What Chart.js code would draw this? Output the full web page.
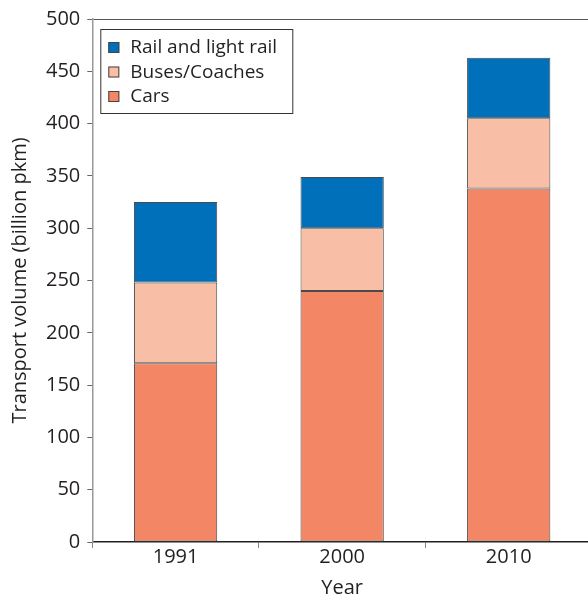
<!DOCTYPE html>
<html>
<head>
<meta charset="utf-8">
<script src="https://cdn.jsdelivr.net/npm/chart.js@4/dist/chart.umd.min.js"></script>
<style>
  html, body { margin: 0; padding: 0; background: #fff; overflow: hidden; }
  #wrap { width: 600px; height: 597px; }
</style>
</head>
<body>
<div id="wrap"><canvas id="chart"></canvas></div>
<script>
// data
const years = ['1991', '2000', '2010'];
const cars = [171, 240, 338];
const buses = [77, 60, 67];
const rail = [77, 49, 58];
const yTicks = [0, 50, 100, 150, 200, 250, 300, 350, 400, 450, 500];

const FONT = '"Open Sans", "Noto Sans", sans-serif';
const INK = '#231f20';

// legend drawn as a boxed list in the top-left of the plot
const boxLegend = {
  id: 'boxLegend',
  afterDraw(chart) {
    const ctx = chart.ctx;
    const area = chart.chartArea;
    const items = chart.data.datasets.slice().reverse();
    const x0 = area.left + 8, y0 = area.top + 10;
    const rowH = 24.5, w = 192, h = 84;
    ctx.save();
    ctx.fillStyle = '#fff';
    ctx.fillRect(x0, y0, w, h);
    ctx.strokeStyle = '#333';
    ctx.lineWidth = 1;
    ctx.strokeRect(x0 + 0.5, y0 + 0.5, w, h);
    ctx.font = '19px ' + FONT;
    ctx.textBaseline = 'middle';
    items.forEach((ds, i) => {
      const cy = y0 + 18 + i * rowH;
      ctx.fillStyle = ds.backgroundColor;
      ctx.fillRect(x0 + 8, cy - 5, 11, 11);
      ctx.strokeStyle = '#444';
      ctx.strokeRect(x0 + 8.5, cy - 4.5, 10, 10);
      ctx.fillStyle = INK;
      ctx.fillText(ds.label, x0 + 30, cy + 1);
    });
    ctx.restore();
  }
};

new Chart(document.getElementById('chart'), {
  type: 'bar',
  data: {
    labels: years,
    datasets: [
      { label: 'Cars', data: cars, backgroundColor: '#f38665' },
      { label: 'Buses/Coaches', data: buses, backgroundColor: '#f9bea6' },
      { label: 'Rail and light rail', data: rail, backgroundColor: '#0070bb' }
    ].map(d => Object.assign(d, {
      borderColor: '#4a4a4a', borderWidth: 1, borderSkipped: false,
      barPercentage: 0.5, categoryPercentage: 1
    }))
  },
  options: {
    responsive: true,
    maintainAspectRatio: false,
    animation: false,
    layout: { padding: { top: 18, right: 8, left: 8, bottom: 0 } },
    plugins: { legend: { display: false }, tooltip: { enabled: false } },
    scales: {
      x: {
        stacked: true,
        grid: { offset: true, drawOnChartArea: false, tickLength: 6, tickColor: '#888' },
        border: { color: '#231f20', width: 1.5 },
        ticks: { color: INK, font: { family: FONT, size: 20 }, padding: -3 },
        title: { display: true, text: 'Year', color: INK, font: { family: FONT, size: 20 }, padding: { top: 10, bottom: -3 } }
      },
      y: {
        stacked: true,
        min: 0, max: 500,
        afterBuildTicks: axis => { axis.ticks = yTicks.map(v => ({ value: v })); },
        grid: {
          tickLength: 5,
          color: c => (c.tick && c.tick.value === 500) ? '#555' : 'transparent',
          tickColor: '#666'
        },
        border: { color: '#999', width: 1.5 },
        ticks: { color: INK, font: { family: FONT, size: 20 }, padding: 7 },
        title: { display: true, text: 'Transport volume (billion pkm)', color: INK, font: { family: FONT, size: 20 }, padding: { top: 0, bottom: 7 } }
      }
    }
  },
  plugins: [boxLegend]
});
</script>
</body>
</html>
